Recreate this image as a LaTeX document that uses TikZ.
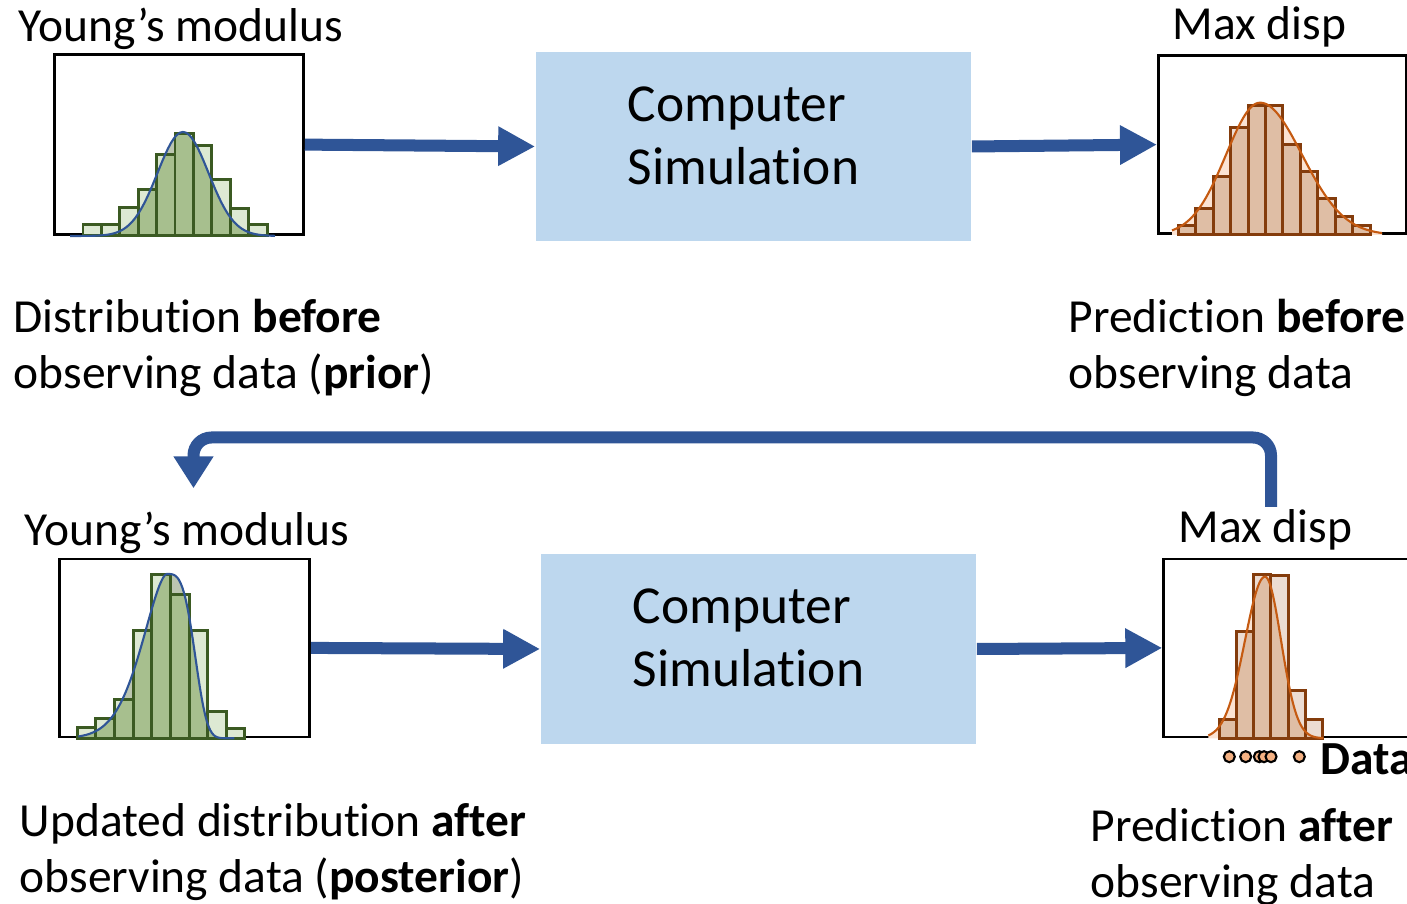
\documentclass[tikz,border=0pt]{standalone}
\usepackage{fontspec}
\setmainfont{Carlito}[Ligatures={TeX,NoCommon}]
\usetikzlibrary{arrows.meta,positioning,calc}

\definecolor{flowblue}{HTML}{2F5597}
\definecolor{simfill}{HTML}{BDD7EE}
\definecolor{gline}{HTML}{3B5A22}
\definecolor{glight}{HTML}{DDE9D3}
\definecolor{gdark}{HTML}{A7BF8E}
\definecolor{gshade}{HTML}{BCC6B1}
\definecolor{oline}{HTML}{843C0C}
\definecolor{ocurve}{HTML}{C55A11}
\definecolor{olight}{HTML}{ECDCD2}
\definecolor{odark}{HTML}{DFBEA5}
\definecolor{oshade}{HTML}{FBE3D3}
\definecolor{dotfill}{HTML}{F4B183}

\begin{document}
\begin{tikzpicture}[x=0.01cm, y=0.01cm,
    lbl/.style={font=\fontsize{13.5pt}{16.2pt}\selectfont, inner sep=0, align=left},
    frame/.style={draw, line width=0.75pt, inner sep=0, minimum height=1.78cm, anchor=south west},
    simbox/.style={fill=simfill, inner sep=0, minimum width=4.35cm, minimum height=1.89cm},
    simtxt/.style={font=\fontsize{15.2pt}{17.9pt}\selectfont, inner sep=0, align=left},
    flow/.style={draw=flowblue, line width=0.12cm, -{Triangle[length=0.37cm, width=0.37cm]}},
    gbar/.style={draw=gline, line width=0.85pt},
    obar/.style={draw=oline, line width=0.85pt},
    datadot/.style={draw=black, line width=0.6pt, fill=dotfill}]

\useasboundingbox (0,0) rectangle (1407,904);

% top row: prior -> simulation -> prediction
\node[frame, minimum width=2.49cm, minimum height=1.8cm] (prior) at (53,668) {};
\node[simbox] (sim1) at (753.5,757.5) {};
\node[simtxt, anchor=base west] (sim1txt) at ([shift={(92,-133)}]sim1.north west) {Computer\\Simulation};
\node[frame, minimum width=2.48cm] (pred1) at (1157,669) {};

\node[lbl, anchor=base west] (ym1) at (18,862.3) {Young’s modulus};
\node[lbl, anchor=base west] (md1) at (1172,864) {Max disp};
\node[lbl, anchor=base west] (priortxt) at (13,515) {Distribution \textbf{before}\\observing data (\textbf{prior})};
\node[lbl, anchor=base west] (pred1txt) at (1068,515) {Prediction \textbf{before}\\observing data};

\draw[flow] (prior.east) -- (sim1.west);
\draw[flow] (sim1.east) -- (pred1.west);

% bottom row: posterior -> simulation -> prediction
\node[frame, minimum width=2.5cm] (post) at (58.3,165.7) {};
\node[simbox] (sim2) at (758.5,255) {};
\node[simtxt, anchor=base west] (sim2txt) at ([shift={(92,-133)}]sim2.north west) {Computer\\Simulation};
\node[frame, minimum width=2.6cm] (pred2) at (1162.3,165.7) {};

\node[lbl, anchor=base west] (ym2) at (24,358) {Young’s modulus};
\node[lbl, anchor=base west] (md2) at (1178,361) {Max disp};
\node[lbl, anchor=base west] (posttxt) at (19,11) {Updated distribution \textbf{after}\\observing data (\textbf{posterior})};
\node[lbl, anchor=base west] (pred2txt) at (1090,6) {Prediction \textbf{after}\\observing data};
\node[lbl, anchor=base west] (datatxt) at (1320,129) {\textbf{Data}};

\draw[flow] (post.east) -- (sim2.west);
\draw[flow] (sim2.east) -- (pred2.west);

% feedback loop
\coordinate (fbstart) at (1271,397);
\coordinate (fbtop) at (700,466.5);
\coordinate (fbend) at (193.5,415.7);
\draw[flow, rounded corners=0.18cm, -{Triangle[length=0.32cm, width=0.38cm]}] (fbstart) |- (fbtop) -| (fbend);

% prior histogram
\begin{scope}[shift={(prior.south west)}]
  \path[save path=\priorcurve] (17,0) -- plot[domain=17:222, samples=70] (\x, {104*exp(-((\x-130)^2)/1300)}) -- (222,0) -- cycle;
  \fill[gshade, use path=\priorcurve];
  \foreach \h [count=\i from 0] in {11,11,28,46,81,102,90,56,27,11}
    \fill[glight] (30+\i*18.4,0) rectangle ++(18.4,\h);
  \begin{scope}
    \clip[use path=\priorcurve];
    \foreach \h [count=\i from 0] in {11,11,28,46,81,102,90,56,27,11}
      \fill[gdark] (30+\i*18.4,0) rectangle ++(18.4,\h);
  \end{scope}
  \foreach \h [count=\i from 0] in {11,11,28,46,81,102,90,56,27,11}
    \draw[gbar] (30+\i*18.4,0) rectangle ++(18.4,\h);
  \draw[flowblue, line width=0.6pt] plot[domain=17:222, samples=70] (\x, {104*exp(-((\x-130)^2)/1300)});
\end{scope}

% prediction before data
\begin{scope}[shift={(pred1.south west)}]
  \path[save path=\predcurve] (15,0) -- plot[domain=15:103, samples=40] (\x, {132.3*exp(-((\x-103)^2)/2312)})
    -- plot[domain=103:225, samples=50] (\x, {132.3*exp(-((\x-103)^2)/3528)}) -- (225,0) -- cycle;
  \fill[oshade, use path=\predcurve];
  \foreach \h [count=\i from 0] in {9.3,26,58.3,107.3,129.3,129.3,90.7,63.3,36.7,18.3,9.3}
    \fill[olight] (21.3+\i*17.43,0) rectangle ++(17.43,\h);
  \begin{scope}
    \clip[use path=\predcurve];
    \foreach \h [count=\i from 0] in {9.3,26,58.3,107.3,129.3,129.3,90.7,63.3,36.7,18.3,9.3}
      \fill[odark] (21.3+\i*17.43,0) rectangle ++(17.43,\h);
  \end{scope}
  \foreach \h [count=\i from 0] in {9.3,26,58.3,107.3,129.3,129.3,90.7,63.3,36.7,18.3,9.3}
    \draw[obar] (21.3+\i*17.43,0) rectangle ++(17.43,\h);
  \draw[ocurve, line width=0.6pt] plot[domain=15:103, samples=40] (\x, {132.3*exp(-((\x-103)^2)/2312)})
    -- plot[domain=103:225, samples=50] (\x, {132.3*exp(-((\x-103)^2)/3528)});
\end{scope}

% posterior histogram
\begin{scope}[shift={(post.south west)}]
  \path[save path=\postcurve] (20,0) -- plot[domain=20:108.4, samples=50] (\x, {164.3*exp(-(abs(\x-108.4)/35.5)^1.65)})
    -- plot[domain=108.4:176, samples=40] (\x, {164.3*exp(-(abs(\x-108.4)/31.7)^3.47)}) -- (176,0) -- cycle;
  \fill[gshade, use path=\postcurve];
  \foreach \h [count=\i from 0] in {10.6,19.3,38.3,107.3,163.3,143.3,107.3,26.6,10}
    \fill[glight] (19+\i*18.63,0) rectangle ++(18.63,\h);
  \begin{scope}
    \clip[use path=\postcurve];
    \foreach \h [count=\i from 0] in {10.6,19.3,38.3,107.3,163.3,143.3,107.3,26.6,10}
      \fill[gdark] (19+\i*18.63,0) rectangle ++(18.63,\h);
  \end{scope}
  \foreach \h [count=\i from 0] in {10.6,19.3,38.3,107.3,163.3,143.3,107.3,26.6,10}
    \draw[gbar] (19+\i*18.63,0) rectangle ++(18.63,\h);
  \draw[flowblue, line width=0.6pt] plot[domain=20:108.4, samples=50] (\x, {164.3*exp(-(abs(\x-108.4)/35.5)^1.65)})
    -- plot[domain=108.4:176, samples=40] (\x, {164.3*exp(-(abs(\x-108.4)/31.7)^3.47)});
\end{scope}

% prediction after data
\begin{scope}[shift={(pred2.south west)}]
  \path[save path=\postpred] (46,0) -- plot[domain=46:102.7, samples=40] (\x, {161.6*exp(-((\x-102.7)^2)/800)})
    -- plot[domain=102.7:161, samples=40] (\x, {161.6*exp(-((\x-102.7)^2)/512)}) -- (161,0) -- cycle;
  \fill[oshade, use path=\postpred];
  \foreach \h [count=\i from 0] in {18.3,106.6,163.3,162.6,47.3,18.3}
    \fill[olight] (57+\i*17.2,0) rectangle ++(17.2,\h);
  \begin{scope}
    \clip[use path=\postpred];
    \foreach \h [count=\i from 0] in {18.3,106.6,163.3,162.6,47.3,18.3}
      \fill[odark] (57+\i*17.2,0) rectangle ++(17.2,\h);
  \end{scope}
  \foreach \h [count=\i from 0] in {18.3,106.6,163.3,162.6,47.3,18.3}
    \draw[obar] (57+\i*17.2,0) rectangle ++(17.2,\h);
  \draw[ocurve, line width=0.6pt] plot[domain=46:102.7, samples=40] (\x, {161.6*exp(-((\x-102.7)^2)/800)})
    -- plot[domain=102.7:161, samples=40] (\x, {161.6*exp(-((\x-102.7)^2)/512)});
  % observed data points
  \foreach \d in {67,83.4,97,101.7,108.7,137}
    \draw[datadot] (\d,-18.4) circle (5.5);
\end{scope}
\end{tikzpicture}
\end{document}
